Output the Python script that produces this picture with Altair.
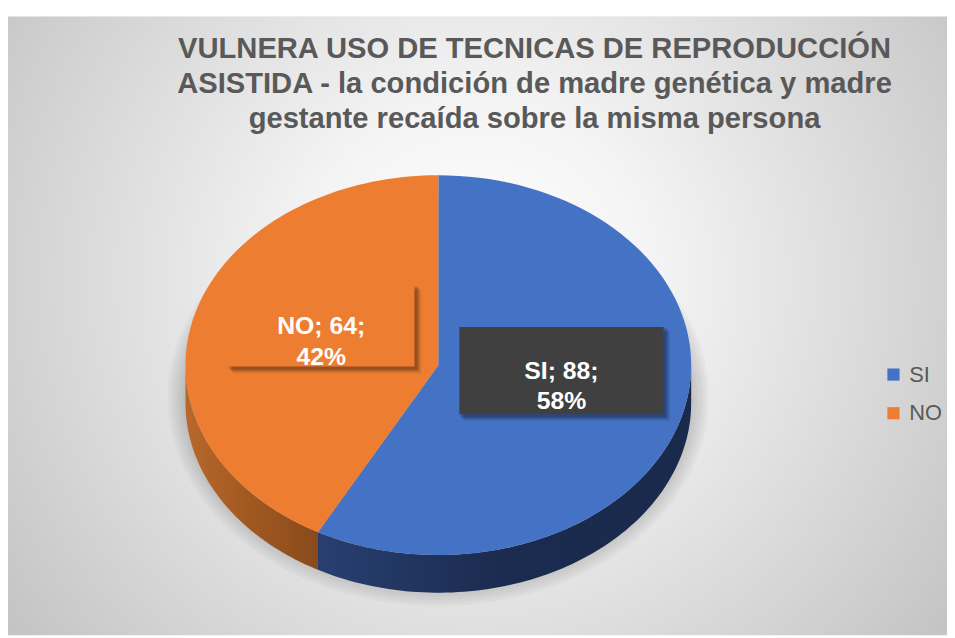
import altair as alt
import pandas as pd

# ---- data ----
categories = ["SI", "NO"]
counts = [88, 64]
title_lines = [
    "VULNERA USO DE TECNICAS DE REPRODUCCIÓN",
    "ASISTIDA - la condición de madre genética y madre",
    "gestante recaída sobre la misma persona",
]

# ---- styles ----
slice_colors = ["#4472C4", "#ED7D31"]
side_grads = {"SI": ["#283f70", "#1b2b4f", "#1a2a4c"], "NO": ["#b8682c", "#a05820", "#8a4a1c"]}
box_colors = {"SI": "#404040", "NO": "#ED7D31"}
box_half = {"SI": (103, 44), "NO": (94, 41)}

W, H = 947, 630
CX, CY, RX, RY, DEPTH = 434, 357.5, 255, 191.5, 38
N = 90

df = pd.DataFrame({"cat": categories, "value": counts, "k": list(range(len(categories)))})


def qx(f):
    return alt.X(f, scale=alt.Scale(domain=[0, W], nice=False, zero=False), axis=None)


def qy(f):
    return alt.Y(f, scale=alt.Scale(domain=[0, H], nice=False, zero=False, reverse=True), axis=None)


xs = qx("px:Q")
ys = qy("py:Q")

base = (
    alt.Chart(df)
    .transform_joinaggregate(total="sum(value)")
    .transform_window(cum="sum(value)", sort=[alt.SortField("k")], frame=[None, 0])
    .transform_calculate(
        a0="2*PI*(datum.cum - datum.value)/datum.total",
        a1="2*PI*datum.cum/datum.total",
    )
)

# background
bg = alt.Chart(pd.DataFrame({"z": [0]})).mark_rect(
    fill=alt.RadialGradient(
        gradient="radial",
        stops=[
            alt.GradientStop(color="#ffffff", offset=0),
            alt.GradientStop(color="#f4f4f4", offset=0.3),
            alt.GradientStop(color="#c4c4c4", offset=1),
        ],
        x1=0.5, y1=0.45, r1=0, x2=0.5, y2=0.45, r2=0.62,
    )
).encode(x=alt.value(0), x2=alt.value(W), y=alt.value(6), y2=alt.value(H))

# halo shadow under the pie
halo = (
    alt.Chart(alt.sequence(0, N + 1, as_="t"))
    .transform_calculate(ks="sequence(0, 7)")
    .transform_flatten(["ks"], as_=["kk"])
    .transform_calculate(
        ang=f"2*PI*datum.t/{N}",
        px=f"{CX} + ({RX} + 3*datum.kk)*sin(datum.ang)",
        py=f"{CY} + {DEPTH * 0.85} - ({RY} + 3.2*datum.kk)*cos(datum.ang)",
    )
    .mark_line(fill="#000000", fillOpacity=0.028, strokeWidth=0, strokeOpacity=0)
    .encode(x=xs, y=ys, order="t:Q", detail="kk:N")
)

# side walls
side = (
    base.transform_calculate(s0="max(datum.a0, PI/2)", s1="min(datum.a1, 3*PI/2)")
    .transform_filter("datum.s1 > datum.s0")
    .transform_calculate(steps=f"sequence(0, {2 * N + 2})")
    .transform_flatten(["steps"], as_=["t"])
    .transform_calculate(
        ang=f"datum.t <= {N} ? datum.s0 + (datum.s1-datum.s0)*datum.t/{N} : datum.s1 - (datum.s1-datum.s0)*(datum.t-{N + 1})/{N}",
        px=f"{CX} + {RX}*sin(datum.ang)",
        py=f"{CY} - {RY}*cos(datum.ang) + (datum.t <= {N} ? 0 : {DEPTH})",
    )
)
side_layers = []
for c in categories:
    g = side_grads[c]
    side_layers.append(
        side.transform_filter(alt.datum.cat == c)
        .mark_line(
            fill=alt.LinearGradient(
                gradient="linear",
                stops=[
                    alt.GradientStop(color=g[0], offset=0),
                    alt.GradientStop(color=g[1], offset=0.5),
                    alt.GradientStop(color=g[2], offset=1),
                ],
                x1=0, x2=1, y1=0, y2=0,
            ),
            strokeWidth=0,
            strokeOpacity=0,
        )
        .encode(x=xs, y=ys, order="t:Q")
    )

# top faces
top = (
    base.transform_calculate(steps=f"sequence(-1, {N + 1})")
    .transform_flatten(["steps"], as_=["t"])
    .transform_calculate(
        ang=f"datum.a0 + (datum.a1 - datum.a0) * max(datum.t, 0) / {N}",
        px=f"datum.t < 0 ? {CX} : {CX} + {RX} * sin(datum.ang)",
        py=f"datum.t < 0 ? {CY} : {CY} - {RY} * cos(datum.ang)",
    )
    .mark_line(strokeWidth=0, strokeOpacity=0)
    .encode(
        x=xs,
        y=ys,
        order="t:Q",
        fill=alt.Fill(
            "cat:N",
            scale=alt.Scale(domain=categories, range=slice_colors),
            legend=alt.Legend(
                title=None,
                orient="none",
                legendX=882,
                legendY=356,
                symbolType="square",
                symbolSize=150,
                symbolStrokeWidth=0,
                symbolOpacity=1,
                labelFontSize=22,
                labelFont="Liberation Sans",
                labelColor="#595959",
                labelOffset=5,
                rowPadding=17,
                padding=0,
            ),
        ),
    )
)

# data labels
lab = base.transform_calculate(
    mid="(datum.a0 + datum.a1)/2",
    lx=f"{CX} + 3 + 0.49*{RX}*sin(datum.mid)",
    ly=f"{CY} - 17 - 0.48*{RY}*cos(datum.mid)",
    label="datum.cat + '; ' + datum.value + ';\\n' + format(datum.value/datum.total, '.0%')",
)
label_layers = []
for c in categories:
    hw, hh = box_half[c]
    lc = lab.transform_filter(alt.datum.cat == c)
    # soft drop shadow: several offset rects with low opacity
    for off, op in [(7, 0.05), (6, 0.06), (5, 0.08), (4, 0.1), (3, 0.12)]:
        sh = lc.transform_calculate(
            sx0=f"datum.lx - {hw} + {off} - 2", sx1=f"datum.lx + {hw} + {off}",
            sy0=f"datum.ly - {hh} + {off} - 2", sy1=f"datum.ly + {hh} + {off}",
        )
        label_layers.append(
            sh.mark_rect(fill="#000000", opacity=op).encode(
                x=qx("sx0:Q"), x2="sx1:Q", y=qy("sy0:Q"), y2="sy1:Q"
            )
        )
    bx = lc.transform_calculate(
        bx0=f"datum.lx - {hw}", bx1=f"datum.lx + {hw}",
        by0=f"datum.ly - {hh}", by1=f"datum.ly + {hh}",
    )
    label_layers.append(
        bx.mark_rect(fill=box_colors[c]).encode(
            x=qx("bx0:Q"), x2="bx1:Q", y=qy("by0:Q"), y2="by1:Q"
        )
    )

label_text = lab.mark_text(
    color="#ffffff",
    font="Liberation Sans",
    fontSize=25,
    fontWeight="bold",
    lineBreak="\n",
    lineHeight=31,
    align="center",
    baseline="middle",
).encode(x=qx("lx:Q"), y=qy("ly:Q"), text="label:N")

# title
tdf = pd.DataFrame({"line": title_lines, "i": list(range(len(title_lines)))})
title = (
    alt.Chart(tdf)
    .transform_calculate(py="39 + 35*datum.i")
    .mark_text(
        color="#595959",
        font="Liberation Sans",
        fontSize=29.4,
        fontWeight="bold",
        align="center",
        baseline="middle",
    )
    .encode(x=alt.value(531), y=ys, text="line:N")
)

chart = (
    alt.layer(bg, halo, *side_layers, top, *label_layers, label_text, title)
    .properties(width=W, height=H, padding=0, autosize="none", background="#ffffff")
    .configure_view(stroke=None)
)

chart.save("out.html", embed_options={"renderer": "svg", "actions": False})
